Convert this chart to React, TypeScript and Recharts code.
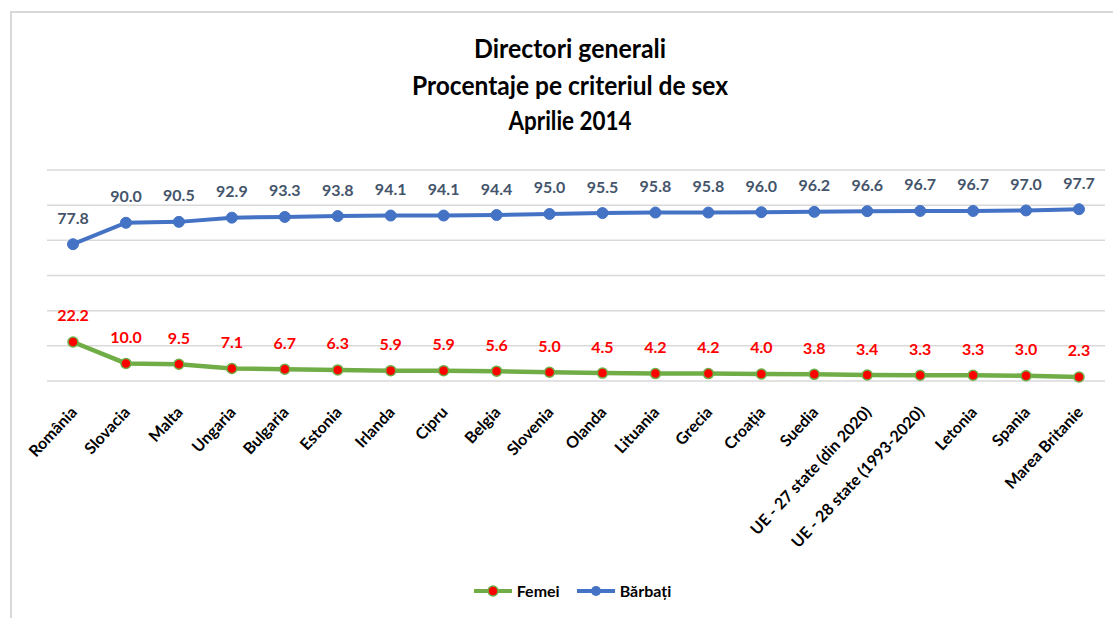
import React from "react";
import { LineChart, Line, XAxis, YAxis, CartesianGrid, LabelList, Legend } from "recharts";

const categories = [
  "România", "Slovacia", "Malta", "Ungaria", "Bulgaria", "Estonia", "Irlanda", "Cipru",
  "Belgia", "Slovenia", "Olanda", "Lituania", "Grecia", "Croația", "Suedia",
  "UE - 27 state (din 2020)", "UE - 28 state (1993-2020)", "Letonia", "Spania", "Marea Britanie",
];
const femei = [22.2, 10.0, 9.5, 7.1, 6.7, 6.3, 5.9, 5.9, 5.6, 5.0, 4.5, 4.2, 4.2, 4.0, 3.8, 3.4, 3.3, 3.3, 3.0, 2.3];
const barbati = [77.8, 90.0, 90.5, 92.9, 93.3, 93.8, 94.1, 94.1, 94.4, 95.0, 95.5, 95.8, 95.8, 96.0, 96.2, 96.6, 96.7, 96.7, 97.0, 97.7];
const yTicks = [0, 20, 40, 60, 80, 100, 120];
const titleLines = ["Directori generali", "Procentaje pe criteriul de sex", "Aprilie 2014"];

const data = categories.map((name, i) => ({ name, femei: femei[i], barbati: barbati[i] }));

const FONT = "Lato, 'Open Sans', sans-serif";
const BLUE = "#4472C4";
const GREEN = "#70AD47";
const RED = "#FF0000";

const makeLabel = (color: string) => (props: any) => {
  const { x, y, value } = props;
  return (
    <text x={x} y={y - 27} textAnchor="middle" dominantBaseline="central"
      fontFamily={FONT} fontWeight={700} fontSize={16} fill={color}>
      {Number(value).toFixed(1)}
    </text>
  );
};

// rotated category labels, ending just right of the point
const AngledTick = ({ x, y, payload }: any) => (
  <text x={x + 5} y={y + 24} transform={`rotate(-47, ${x + 5}, ${y + 24})`} textAnchor="end"
    fontFamily={FONT} fontWeight={700} fontSize={16} fill="#000">
    {payload.value}
  </text>
);

const LegendContent = () => (
  <div style={{ display: "flex", justifyContent: "center", alignItems: "center", gap: 16, fontFamily: FONT, fontWeight: 700, fontSize: 16, color: "#000", paddingRight: 8 }}>
    <div style={{ display: "flex", alignItems: "center", gap: 4 }}>
      <svg width={40} height={14}>
        <line x1={1} y1={7} x2={39} y2={7} stroke={GREEN} strokeWidth={4} />
        <circle cx={20} cy={7} r={5} fill={RED} stroke={GREEN} strokeWidth={1.5} />
      </svg>
      <span>Femei</span>
    </div>
    <div style={{ display: "flex", alignItems: "center", gap: 4 }}>
      <svg width={40} height={14}>
        <line x1={1} y1={7} x2={39} y2={7} stroke={BLUE} strokeWidth={4} />
        <circle cx={20} cy={7} r={5} fill={BLUE} />
      </svg>
      <span>Bărbați</span>
    </div>
  </div>
);

export default function App() {
  const titleWidths = [192, 316, 123];
  const baselines = [58, 95, 130];
  return (
    <div style={{ position: "relative", width: 1113, height: 618, background: "#fff" }}>
      <style>{`body{margin:0}`}</style>
      <div style={{ position: "absolute", left: 10, top: 11, right: 0, bottom: 0, borderTop: "2px solid #D9D9D9", borderLeft: "2px solid #D9D9D9" }} />
      <svg width={1113} height={150} style={{ position: "absolute", left: 0, top: 0 }}>
        {titleLines.map((t, i) => (
          <text key={t} x={570} y={baselines[i]} textAnchor="middle" fontFamily={FONT} fontWeight={700}
            fontSize={26} fill="#000" textLength={titleWidths[i]} lengthAdjust="spacingAndGlyphs">
            {t}
          </text>
        ))}
      </svg>
      <div style={{ position: "absolute", left: 0, top: 0 }}>
        <LineChart width={1113} height={618} data={data} margin={{ top: 170, right: 8, left: 47, bottom: 7 }}>
          <CartesianGrid vertical={false} stroke="#D9D9D9" strokeWidth={1.5} />
          <XAxis dataKey="name" interval={0} axisLine={false} tickLine={false} height={200}
            padding={{ left: 26, right: 26 }} tick={<AngledTick />} />
          <YAxis hide domain={[0, 120]} ticks={yTicks} />
          <Legend verticalAlign="bottom" height={30} content={<LegendContent />} />
          <Line dataKey="femei" name="Femei" stroke={GREEN} strokeWidth={4.5} isAnimationActive={false}
            dot={{ r: 5, fill: RED, stroke: GREEN, strokeWidth: 1.5 }}>
            <LabelList dataKey="femei" content={makeLabel(RED)} />
          </Line>
          <Line dataKey="barbati" name="Bărbați" stroke={BLUE} strokeWidth={4} isAnimationActive={false}
            dot={{ r: 5.5, fill: BLUE, stroke: BLUE, strokeWidth: 1 }}>
            <LabelList dataKey="barbati" content={makeLabel("#44546A")} />
          </Line>
        </LineChart>
      </div>
    </div>
  );
}
